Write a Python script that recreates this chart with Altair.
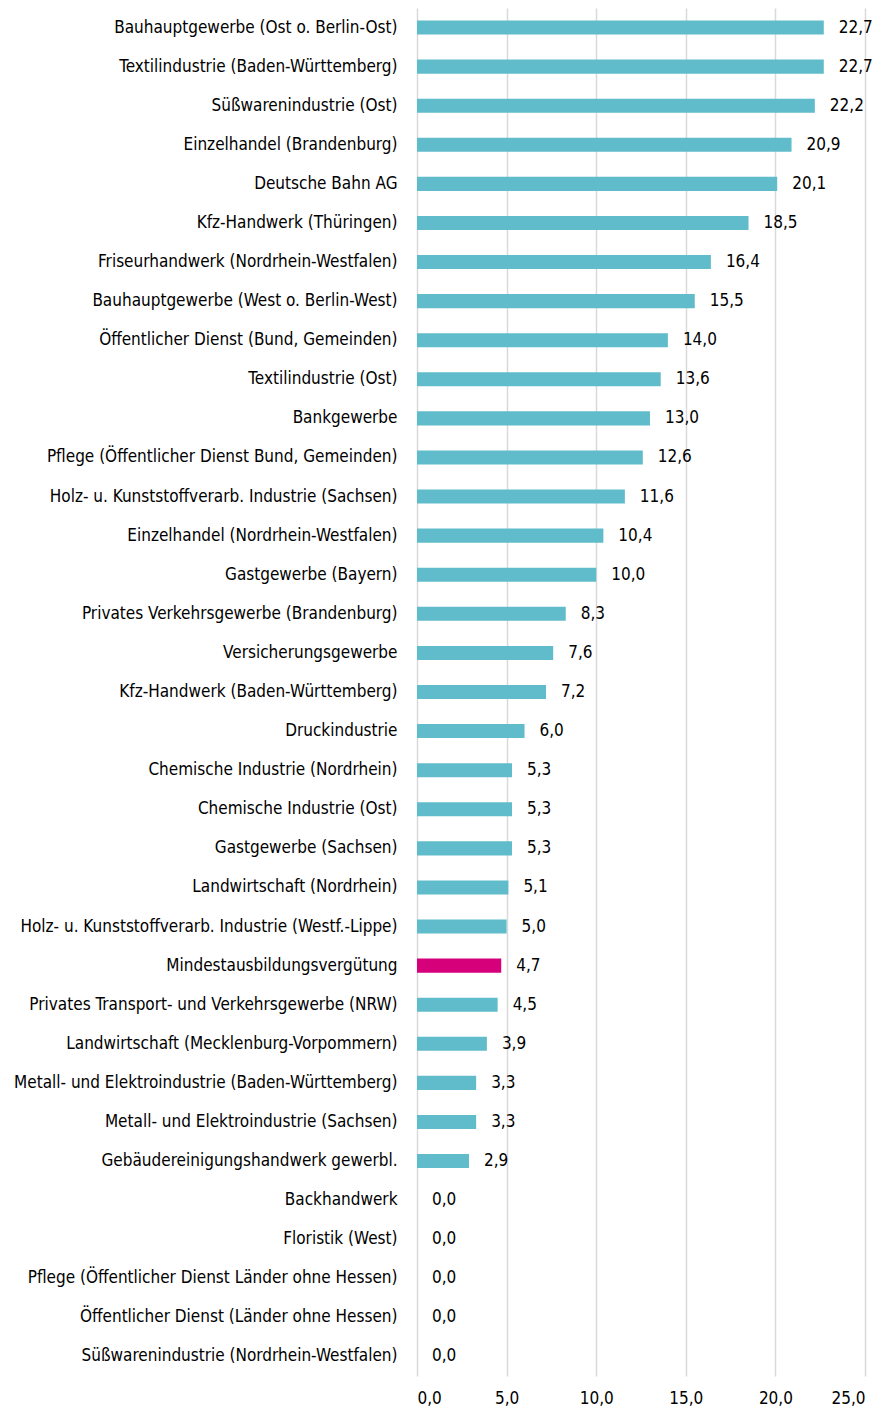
import altair as alt
import pandas as pd

categories = [
    "Bauhauptgewerbe (Ost o. Berlin-Ost)",
    "Textilindustrie (Baden-Württemberg)",
    "Süßwarenindustrie (Ost)",
    "Einzelhandel (Brandenburg)",
    "Deutsche Bahn AG",
    "Kfz-Handwerk (Thüringen)",
    "Friseurhandwerk (Nordrhein-Westfalen)",
    "Bauhauptgewerbe (West o. Berlin-West)",
    "Öffentlicher Dienst (Bund, Gemeinden)",
    "Textilindustrie (Ost)",
    "Bankgewerbe",
    "Pflege (Öffentlicher Dienst Bund, Gemeinden)",
    "Holz- u. Kunststoffverarb. Industrie (Sachsen)",
    "Einzelhandel (Nordrhein-Westfalen)",
    "Gastgewerbe (Bayern)",
    "Privates Verkehrsgewerbe (Brandenburg)",
    "Versicherungsgewerbe ",
    "Kfz-Handwerk (Baden-Württemberg)",
    "Druckindustrie",
    "Chemische Industrie (Nordrhein)",
    "Chemische Industrie (Ost)",
    "Gastgewerbe (Sachsen)",
    "Landwirtschaft (Nordrhein)",
    "Holz- u. Kunststoffverarb. Industrie (Westf.-Lippe)",
    "Mindestausbildungsvergütung",
    "Privates Transport- und Verkehrsgewerbe (NRW)",
    "Landwirtschaft (Mecklenburg-Vorpommern)",
    "Metall- und Elektroindustrie (Baden-Württemberg)",
    "Metall- und Elektroindustrie (Sachsen)",
    "Gebäudereinigungshandwerk gewerbl. ",
    "Backhandwerk",
    "Floristik (West)",
    "Pflege (Öffentlicher Dienst Länder ohne Hessen)",
    "Öffentlicher Dienst (Länder ohne Hessen)",
    "Süßwarenindustrie (Nordrhein-Westfalen)",
]
values = [22.7, 22.7, 22.2, 20.9, 20.1, 18.5, 16.4, 15.5, 14.0, 13.6, 13.0, 12.6,
          11.6, 10.4, 10.0, 8.3, 7.6, 7.2, 6.0, 5.3, 5.3, 5.3, 5.1, 5.0, 4.7, 4.5,
          3.9, 3.3, 3.3, 2.9, 0.0, 0.0, 0.0, 0.0, 0.0]
highlight = ["Mindestausbildungsvergütung"]

df = pd.DataFrame({
    "cat": categories,
    "val": values,
    "label": [f"{v:.1f}".replace(".", ",") for v in values],
    "hl": ["ja" if c in highlight else "nein" for c in categories],
})

FONT = "'DejaVu Sans Condensed', sans-serif"
FS = 17

y = alt.Y("cat:N", sort=categories, title=None,
          scale=alt.Scale(paddingInner=0.64, paddingOuter=0.32),
          axis=alt.Axis(labelFont=FONT, labelFontSize=FS, labelColor="#000000",
                        labelPadding=20, ticks=False, domain=False, grid=False,
                        labelLimit=500))
x = alt.X("val:Q", title=None,
          scale=alt.Scale(domain=[0, 25], nice=False),
          axis=alt.Axis(values=[0, 5, 10, 15, 20, 25], labelFont=FONT, labelFontSize=FS,
                        labelColor="#000000", labelExpr="replace(format(datum.value, '.1f'), '.', ',')",
                        grid=True, gridColor="#d9d9d9", gridWidth=1.5,
                        ticks=False, domain=False, labelPadding=14))

bars = alt.Chart(df).mark_bar().encode(
    x=x, y=y,
    color=alt.Color("hl:N", scale=alt.Scale(domain=["nein", "ja"], range=["#60BBCA", "#D5007A"]), legend=None),
)
text = alt.Chart(df).mark_text(align="left", dx=15, font=FONT, fontSize=FS, color="#000000").encode(
    x="val:Q", y=alt.Y("cat:N", sort=categories), text="label:N"
)

chart = (bars + text).properties(
    width=448, height=1368,
    autosize=alt.AutoSizeParams(type="none"),
    padding={"left": 409, "top": 0, "right": 8, "bottom": 36},
).configure_view(stroke=None)

chart.save("out.html", embed_options={"renderer": "svg", "actions": False})
